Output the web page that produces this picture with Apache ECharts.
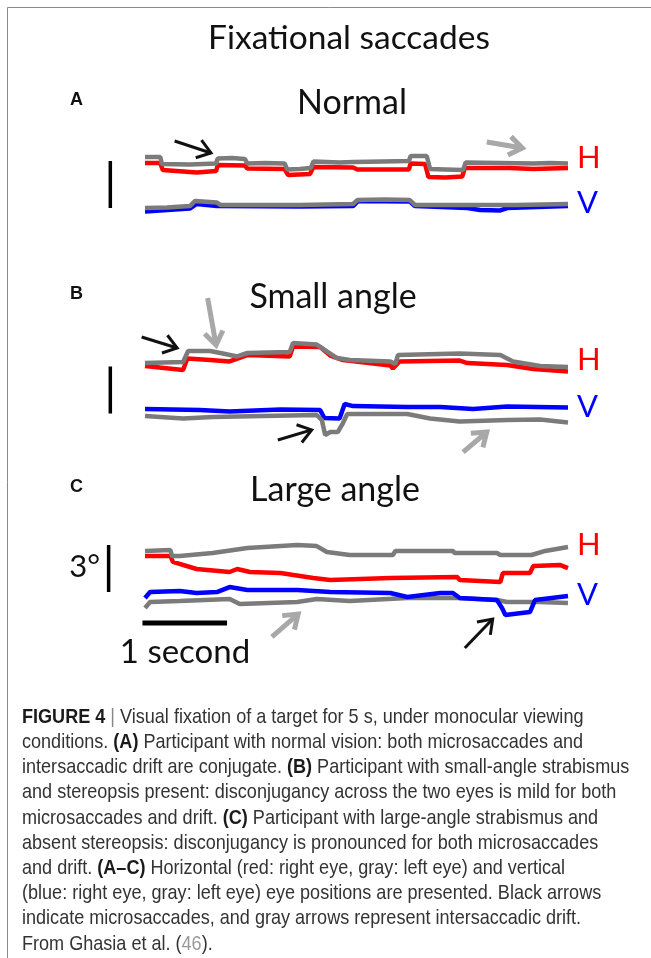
<!DOCTYPE html>
<html><head><meta charset="utf-8">
<script src="https://cdn.jsdelivr.net/npm/echarts@6/dist/echarts.min.js"></script>
<style>html,body{margin:0;padding:0;background:#fff}#c{width:651px;height:958px}</style>
</head><body><div id="c"></div><script>
// ---------- DATA (time in s, eye position in degrees) ----------
// Panel A: Normal
const tA_grayH = [0,0.18,0.20,0.53,0.84,0.86,1.03,1.18,1.21,1.42,1.65,1.68,1.83,1.96,1.99,2.30,2.46,2.81,3.12,3.14,3.33,3.37,3.55,3.76,3.79,4.20,4.59,4.79,5.00];
const vA_grayH = [4.01,4.01,3.57,3.54,3.60,3.92,3.95,3.89,3.60,3.63,3.60,3.22,3.25,3.31,3.73,3.66,3.69,3.73,3.76,4.08,4.08,3.25,3.22,3.18,3.66,3.63,3.60,3.63,3.60];
const tA_redH = [0,0.18,0.21,0.61,0.84,0.86,1.18,1.21,1.65,1.69,1.95,1.99,2.46,2.51,3.12,3.14,3.31,3.35,3.55,3.75,3.78,4.31,4.59,4.79,5.00];
const vA_redH = [3.63,3.63,3.18,3.03,3.12,3.50,3.47,3.28,3.25,2.87,2.93,3.38,3.34,3.22,3.22,3.60,3.57,2.74,2.71,2.77,3.31,3.31,3.25,3.28,3.31];
const tA_grayV = [0,0.26,0.53,0.59,0.85,0.89,1.36,1.83,2.46,2.51,2.84,3.13,3.19,3.81,4.40,5.00];
const vA_grayV = [0.76,0.80,0.89,1.21,1.11,0.96,0.96,0.96,1.02,1.27,1.31,1.27,0.96,0.96,0.96,1.02];
const tA_blueV = [0,0.53,0.61,0.85,1.83,2.46,2.52,3.13,3.19,3.81,3.96,4.20,4.28,5.00];
const vA_blueV = [0.54,0.73,1.02,0.89,0.86,0.89,1.21,1.18,0.89,0.76,0.64,0.61,0.76,0.89];
// Panel B: Small angle
const tB_grayH = [0,0.45,0.51,0.77,0.92,1.09,1.21,1.71,1.75,2.03,2.15,2.27,2.42,2.90,2.96,2.99,3.72,4.20,4.35,4.67,5.00];
const vB_grayH = [5.22,5.29,5.99,5.99,5.83,5.64,5.86,5.92,6.50,6.40,5.96,5.54,5.41,5.32,5.16,5.73,5.83,5.73,5.32,5.03,4.97];
const tB_redH = [0,0.45,0.50,0.77,1.00,1.21,1.71,1.75,2.07,2.19,2.34,2.90,2.93,3.01,3.72,3.81,4.28,4.59,5.00];
const vB_redH = [5.03,4.78,5.51,5.41,5.32,5.73,5.64,6.27,6.24,5.70,5.41,5.06,4.87,5.32,5.38,5.22,5.10,4.84,4.68];
const tB_blueV = [0,0.65,1.00,1.60,2.07,2.12,2.30,2.36,2.46,3.10,3.49,3.88,4.28,5.00];
const vB_blueV = [2.29,2.23,2.13,2.26,2.23,1.72,1.69,2.61,2.48,2.42,2.42,2.29,2.45,2.39];
const tB_grayV = [0,0.45,0.80,1.39,2.03,2.09,2.13,2.19,2.28,2.34,2.39,3.10,3.37,3.72,4.28,4.67,5.00];
const vB_grayV = [1.85,1.69,1.78,1.85,1.91,1.59,0.64,0.83,0.83,1.40,1.97,1.97,1.69,1.50,1.59,1.62,1.43];
// Panel C: Large angle
const tC_grayH = [0,0.30,0.32,0.41,0.80,1.21,1.80,2.03,2.15,2.42,2.93,2.96,3.64,3.66,4.16,4.20,4.57,4.73,5.00];
const vC_grayH = [6.31,6.37,5.99,5.99,6.18,6.50,6.69,6.62,6.24,6.05,6.05,6.31,6.31,6.18,6.18,6.05,6.05,6.31,6.56];
const tC_redH = [0,0.30,0.33,0.61,1.00,1.09,1.24,1.60,1.99,2.19,2.90,3.69,3.72,4.20,4.23,4.55,4.59,4.91,5.00];
const vC_redH = [5.99,5.99,5.61,5.16,4.97,5.16,4.97,4.90,4.59,4.46,4.59,4.65,4.46,4.33,4.90,4.90,5.35,5.41,5.22];
const tC_blueV = [0,0.06,0.41,0.61,0.85,1.00,1.21,1.80,2.19,2.90,3.10,3.49,3.64,3.72,4.16,4.22,4.26,4.55,4.61,5.00];
const vC_blueV = [3.31,3.69,3.76,3.63,3.69,4.01,3.82,3.82,3.69,3.63,3.38,3.63,3.63,3.31,3.18,2.68,2.23,2.42,3.18,3.44];
const tC_grayV = [0,0.06,0.41,1.00,1.12,1.80,2.03,2.42,3.10,3.69,4.16,4.28,4.67,5.00];
const vC_grayV = [2.68,3.06,3.12,3.25,2.93,3.06,3.25,3.12,3.31,3.31,3.18,3.06,3.06,2.99];
// Scale bars: [time, from deg, to deg]
const vertBars = [[-0.41,0.76,3.76],[-0.41,2.00,5.00],[-0.43,3.69,6.69]];
const timeBar = [-0.03,0.97,1.72];
// Arrows: [t tail, deg tail, t tip, deg tip, kind(0 black microsaccade, 1 gray drift)]
const arrowsA = [[0.35,5.03,0.78,4.27,0],[4.04,4.97,4.46,4.59,1]];
const arrowsB = [[-0.04,6.88,0.38,6.18,0],[0.74,9.36,0.84,6.37,1],[1.57,0.32,1.97,0.96,0],[3.76,-0.45,4.04,0.83,1]];
const arrowsC = [[1.50,0.83,1.81,2.29,1],[3.78,0.13,4.11,1.97,0]];
const panelTitles = ['Normal','Small angle','Large angle'];
const panelLetters = ['A','B','C'];
const captionLines = [
  '{b|FIGURE 4}{s| | }Visual fixation of a target for 5 s, under monocular viewing',
  'conditions. {b|(A)} Participant with normal vision: both microsaccades and',
  'intersaccadic drift are conjugate. {b|(B)} Participant with small-angle strabismus',
  'and stereopsis present: disconjugancy across the two eyes is mild for both',
  'microsaccades and drift. {b|(C)} Participant with large-angle strabismus and',
  'absent stereopsis: disconjugancy is pronounced for both microsaccades',
  'and drift. {b|(A–C)} Horizontal (red: right eye, gray: left eye) and vertical',
  '(blue: right eye, gray: left eye) eye positions are presented. Black arrows',
  'indicate microsaccades, and gray arrows represent intersaccadic drift.',
  'From Ghasia et al. ({g|46}).'
];

// ---------- LAYOUT ----------
const PX_S = 84.6, PX_DEG = 15.7;
const GL = 145 - 0.5*PX_S, GW = 5.5*PX_S;
const panels = [
  {ymin:0, ymax:6, bottom:220},
  {ymin:-1, ymax:10, bottom:460.7},
  {ymin:0, ymax:8, bottom:650}
];
const GRAY='#7b7b7b', RED='#ff0000', BLUE='#0000ff';
const zip=(t,v)=>t.map((x,i)=>[x,v[i]]);
const grids=[], xAxes=[], yAxes=[], series=[];
panels.forEach((p,i)=>{
  const h=(p.ymax-p.ymin)*PX_DEG;
  grids.push({left:GL, width:GW, top:p.bottom-h, height:h, containLabel:false});
  xAxes.push({type:'value', gridIndex:i, min:-0.5, max:5, show:false});
  yAxes.push({type:'value', gridIndex:i, min:p.ymin, max:p.ymax, show:false});
});
function trace(i,t,v,color){
  series.push({type:'line', xAxisIndex:i, yAxisIndex:i, data:zip(t,v), showSymbol:false,
    lineStyle:{color, width:4.5}, silent:true, clip:false, animation:false});
}
trace(0,tA_redH,vA_redH,RED); trace(0,tA_grayH,vA_grayH,GRAY);
trace(0,tA_blueV,vA_blueV,BLUE); trace(0,tA_grayV,vA_grayV,GRAY);
trace(1,tB_redH,vB_redH,RED); trace(1,tB_grayH,vB_grayH,GRAY);
trace(1,tB_blueV,vB_blueV,BLUE); trace(1,tB_grayV,vB_grayV,GRAY);
trace(2,tC_redH,vC_redH,RED); trace(2,tC_grayH,vC_grayH,GRAY);
trace(2,tC_grayV,vC_grayV,GRAY); trace(2,tC_blueV,vC_blueV,BLUE);
vertBars.forEach((b,i)=>series.push({type:'line', xAxisIndex:i, yAxisIndex:i, data:[[b[0],b[1]],[b[0],b[2]]],
  showSymbol:false, lineStyle:{color:'#000', width:3.5}, silent:true, clip:false, animation:false}));
series.push({type:'line', xAxisIndex:2, yAxisIndex:2, data:[[timeBar[0],timeBar[2]],[timeBar[1],timeBar[2]]],
  showSymbol:false, lineStyle:{color:'#000', width:5}, silent:true, clip:false, animation:false});
function arrowRender(params, api){
  const p1=api.coord([api.value(0),api.value(1)]), p2=api.coord([api.value(2),api.value(3)]);
  const kind=api.value(4);
  const ang=Math.atan2(p2[1]-p1[1],p2[0]-p1[0]);
  const L=16, a=0.62;
  const h1=[p2[0]-L*Math.cos(ang-a),p2[1]-L*Math.sin(ang-a)];
  const h2=[p2[0]-L*Math.cos(ang+a),p2[1]-L*Math.sin(ang+a)];
  const st={stroke:kind?'#a8a8a8':'#111', lineWidth:kind?5:3, fill:null, lineJoin:'miter', lineCap:'butt'};
  return {type:'group', children:[
    {type:'polyline', shape:{points:[p1,p2]}, style:st},
    {type:'polyline', shape:{points:[h1,p2,h2]}, style:st}
  ]};
}
[arrowsA,arrowsB,arrowsC].forEach((arr,i)=>series.push({type:'custom', xAxisIndex:i, yAxisIndex:i,
  data:arr, renderItem:arrowRender, clip:false, silent:true, animation:false, encode:{x:[0,2], y:[1,3]}}));

// ---------- TEXT ----------
const FIG='Lato, "Open Sans", sans-serif';
const graphic=[
  {type:'line', shape:{x1:7.5,y1:7.5,x2:651,y2:7.5}, style:{stroke:'#8a8a8a', lineWidth:1}},
  {type:'line', shape:{x1:7.5,y1:7.5,x2:7.5,y2:958}, style:{stroke:'#8a8a8a', lineWidth:1}},
  {type:'text', style:{text:'Fixational saccades', x:349, y:38, font:'33.5px '+FIG, fill:'#111', align:'center', verticalAlign:'middle'}}
];
const titleY=[103,297,490], titleX=[352,333,335];
panelTitles.forEach((t,i)=>{
  graphic.push({type:'text', style:{text:t, x:titleX[i], y:titleY[i], font:'34px '+FIG, fill:'#111', align:'center', verticalAlign:'middle'}});
  graphic.push({type:'text', style:{text:panelLetters[i], x:70, y:titleY[i]-3, font:'bold 18px "Liberation Sans", Arial, sans-serif', fill:'#111', align:'left', verticalAlign:'middle'}});
});
const hv=[[158,203],[360,407],[545,595]];
hv.forEach(p=>{
  graphic.push({type:'text', style:{text:'H', x:577, y:p[0], font:'31px '+FIG, fill:RED, align:'left', verticalAlign:'middle'}});
  graphic.push({type:'text', style:{text:'V', x:577, y:p[1], font:'31px '+FIG, fill:BLUE, align:'left', verticalAlign:'middle'}});
});
graphic.push({type:'text', style:{text:'3°', x:100, y:567, font:'31px '+FIG, fill:'#111', align:'right', verticalAlign:'middle'}});
graphic.push({type:'text', style:{text:'1 second', x:185, y:652, font:'33px '+FIG, fill:'#111', align:'center', verticalAlign:'middle'}});
const CAPF='"Liberation Sans", Arial, sans-serif';
captionLines.forEach((l,i)=>graphic.push({type:'text', x:22, y:717+25.2*i, scaleX:0.86, style:{text:l, x:0, y:0,
  font:'21px '+CAPF, fill:'#333', align:'left', verticalAlign:'middle',
  rich:{b:{font:'bold 21px '+CAPF, fill:'#1a1a1a'}, s:{font:'21px '+CAPF, fill:'#888'}, g:{font:'21px '+CAPF, fill:'#999'}}}}));

const chart=echarts.init(document.getElementById('c'),null,{renderer:'canvas'});
chart.setOption({backgroundColor:'#fff', animation:false, grid:grids, xAxis:xAxes, yAxis:yAxes, series, graphic});
</script></body></html>
